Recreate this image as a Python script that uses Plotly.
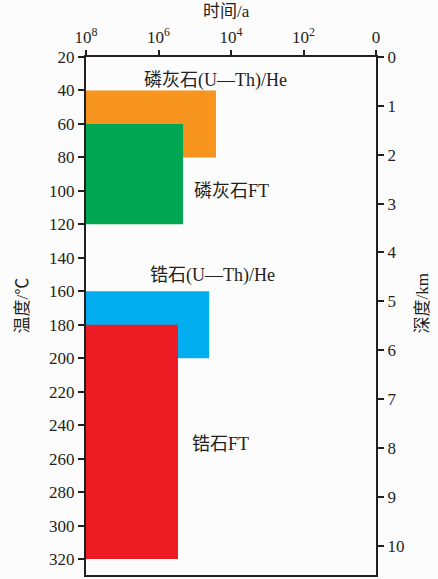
import plotly.graph_objects as go

# --- data ---
methods = ["磷灰石(U—Th)/He", "磷灰石FT", "锆石(U—Th)/He", "锆石FT"]
temp_low = [40, 60, 160, 180]      # °C (top of box)
temp_high = [80, 120, 200, 320]    # °C (bottom of box)
time_max = [1e8, 1e8, 1e8, 1e8]    # a (left edge)
time_min = [2.6e4, 2.1e5, 4.0e4, 2.9e5]  # a (right edge)
colors = ["#f7941d", "#00a651", "#00aeef", "#ed1c24"]

# label anchor positions (log10 time, temperature)
label_x = [4.44, 4.0, 4.5, 4.3]
label_y = [34, 100, 150.5, 251]

time_ticks = [1e8, 1e6, 1e4, 1e2, 1]
time_ticktext = ["10<sup>8</sup>", "10<sup>6</sup>", "10<sup>4</sup>", "10<sup>2</sup>", "0"]
temp_ticks = list(range(20, 321, 20))
depth_ticks = list(range(0, 11))

FONT = "Liberation Serif, 'Noto Sans CJK SC', serif"
INK = "#231f20"

fig = go.Figure()
for i in range(len(methods)):
    fig.add_trace(go.Scatter(
        x=[time_max[i], time_min[i], time_min[i], time_max[i], time_max[i]],
        y=[temp_low[i], temp_low[i], temp_high[i], temp_high[i], temp_low[i]],
        fill="toself", fillcolor=colors[i], mode="lines",
        line=dict(width=0, color=colors[i]), hoverinfo="skip",
        showlegend=False, xaxis="x", yaxis="y"))

# invisible trace for depth axis
fig.add_trace(go.Scatter(x=[1e4], y=[5], mode="markers", marker=dict(opacity=0),
                         showlegend=False, hoverinfo="skip", xaxis="x", yaxis="y2"))

for i in range(len(methods)):
    fig.add_annotation(x=label_x[i], y=label_y[i], xref="x", yref="y",
                       text=methods[i], showarrow=False,
                       xanchor="center", yanchor="middle",
                       font=dict(family=FONT, size=18, color=INK))

fig.add_annotation(x=0.483, y=1.088, xref="paper", yref="paper", text="时间/a",
                   xanchor="center", yanchor="middle",
                   showarrow=False, font=dict(family=FONT, size=17, color=INK))
fig.add_annotation(x=-0.218, y=0.52, xref="paper", yref="paper", text="温度/℃",
                   xanchor="center", yanchor="middle",
                   textangle=-90, showarrow=False, font=dict(family=FONT, size=17, color=INK))
fig.add_annotation(x=1.16, y=0.525, xref="paper", yref="paper", text="深度/km",
                   xanchor="center", yanchor="middle",
                   textangle=-90, showarrow=False, font=dict(family=FONT, size=17, color=INK))

axis_common = dict(showline=True, linecolor=INK, linewidth=2, ticks="outside",
                   tickcolor=INK, tickwidth=2, ticklen=6, showgrid=False, zeroline=False,
                   tickfont=dict(family=FONT, size=17, color=INK))

fig.update_layout(
    width=438, height=579,
    margin=dict(l=86, r=62, t=57, b=2),
    paper_bgcolor="#fcfcfc", plot_bgcolor="#fcfcfc",
    xaxis=dict(type="log", range=[8, 0], side="top", tickvals=time_ticks,
               ticktext=time_ticktext, mirror=True, ticklen=5,
               **{k: v for k, v in axis_common.items() if k != "ticklen"}),
    yaxis=dict(range=[329.5, 20], tickvals=temp_ticks, **axis_common),
    yaxis2=dict(range=[10.6, 0], overlaying="y", side="right", anchor="x",
                tickvals=depth_ticks, **axis_common),
)

fig.write_html("out.html")
